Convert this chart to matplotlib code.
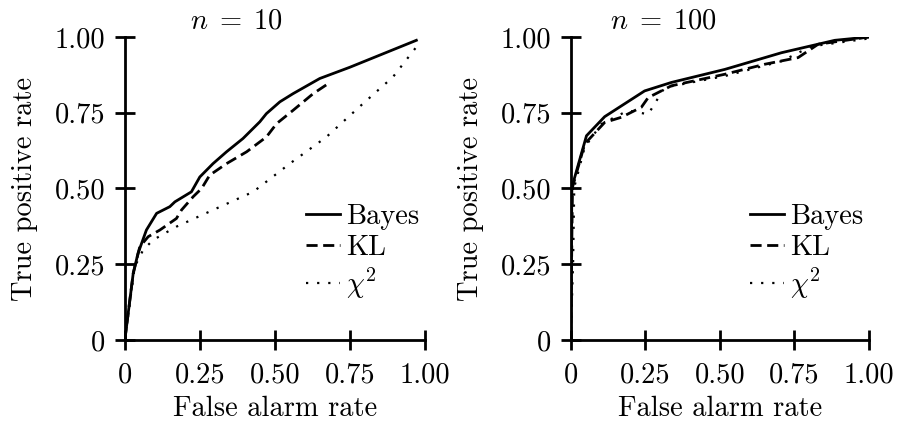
import matplotlib
matplotlib.use("Agg")
import matplotlib.pyplot as plt

plt.rcParams['font.family'] = 'serif'
plt.rcParams['font.serif'] = ['cmr10', 'DejaVu Serif']
plt.rcParams['mathtext.fontset'] = 'cm'
plt.rcParams['axes.unicode_minus'] = False

# n = 10 panel
bayes10_x = [0, 0.028, 0.044, 0.072, 0.106, 0.15, 0.167, 0.222, 0.25, 0.294, 0.339, 0.394, 0.45, 0.472, 0.517, 0.561, 0.65, 0.75, 0.972]
bayes10_y = [0, 0.22, 0.286, 0.363, 0.418, 0.44, 0.456, 0.489, 0.538, 0.582, 0.621, 0.665, 0.72, 0.747, 0.786, 0.813, 0.863, 0.90, 0.989]
kl10_x = [0, 0.028, 0.05, 0.078, 0.117, 0.172, 0.189, 0.228, 0.256, 0.283, 0.339, 0.406, 0.472, 0.506, 0.561, 0.628, 0.678]
kl10_y = [0, 0.22, 0.308, 0.341, 0.363, 0.401, 0.429, 0.473, 0.5, 0.544, 0.582, 0.621, 0.670, 0.714, 0.758, 0.813, 0.846]
chi10_x = [0, 0.033, 0.061, 0.094, 0.172, 0.294, 0.428, 0.55, 0.672, 0.794, 0.894, 0.972]
chi10_y = [0, 0.242, 0.297, 0.33, 0.374, 0.429, 0.489, 0.582, 0.67, 0.78, 0.868, 0.967]

# n = 100 panel
bayes100_x = [0, 0.004, 0.053, 0.114, 0.248, 0.338, 0.517, 0.707, 0.886, 1.0]
bayes100_y = [0, 0.504, 0.674, 0.737, 0.822, 0.85, 0.893, 0.948, 0.989, 1.0]
kl100_x = [0, 0.006, 0.047, 0.114, 0.17, 0.237, 0.26, 0.338, 0.517, 0.651, 0.763, 0.83, 1.0]
kl100_y = [0, 0.504, 0.647, 0.718, 0.735, 0.768, 0.80, 0.839, 0.877, 0.91, 0.932, 0.976, 1.0]
chi100_x = [0, 0.008, 0.012, 0.047, 0.103, 0.192, 0.26, 0.315, 0.517, 0.707, 0.807, 1.0]
chi100_y = [0, 0.25, 0.504, 0.636, 0.713, 0.757, 0.745, 0.833, 0.871, 0.92, 0.969, 0.995]

tick_vals = [0, 0.25, 0.5, 0.75, 1.0]
tick_labels = ['0', '0.25', '0.50', '0.75', '1.00']
series_labels = ['Bayes', 'KL', r'$\chi^2$']
titles = [r'$n\;=\;10$', r'$n\;=\;100$']
title_x = [0.373, 0.312]

fig = plt.figure(figsize=(8.98, 4.25), dpi=100)
ax1 = fig.add_axes([0.139, 0.2, 0.334, 0.713])
ax2 = fig.add_axes([0.6355, 0.2, 0.332, 0.713])

data = [
    (bayes10_x, bayes10_y, kl10_x, kl10_y, chi10_x, chi10_y),
    (bayes100_x, bayes100_y, kl100_x, kl100_y, chi100_x, chi100_y),
]

fs = 20.5
for ax, d, title, tx in zip([ax1, ax2], data, titles, title_x):
    bx, by, kx, ky, cx, cy = d
    ax.plot(bx, by, color='black', lw=2.0, ls='-', label=series_labels[0])
    ax.plot(kx, ky, color='black', lw=2.0, ls=(0, (4, 2)), label=series_labels[1])
    ax.plot(cx, cy, color='black', lw=1.6, ls=(0, (1, 4)), label=series_labels[2])
    ax.set_xlim(0, 1.0)
    ax.set_ylim(0, 1.0)
    for s in ['top', 'right']:
        ax.spines[s].set_visible(False)
    for s in ['left', 'bottom']:
        ax.spines[s].set_linewidth(2.0)
    ax.set_xticks(tick_vals)
    ax.set_xticklabels(tick_labels)
    ax.set_yticks(tick_vals)
    ax.set_yticklabels(tick_labels)
    ax.tick_params(axis='x', direction='inout', length=14, width=2.0, labelsize=fs, pad=9)
    ax.tick_params(axis='y', direction='inout', length=14, width=2.0, labelsize=fs, pad=7)
    ax.set_xlabel('False alarm rate', fontsize=fs, labelpad=5)
    ax.set_ylabel('True positive rate', fontsize=fs, labelpad=12)
    ax.set_title(title, fontsize=fs, pad=6, x=tx)
    leg = ax.legend(loc='lower right', bbox_to_anchor=(1.02, 0.09), frameon=False,
                    fontsize=fs, handlelength=1.2, handletextpad=0.2,
                    labelspacing=0.18, borderaxespad=0)

fig.savefig('out.png', dpi=100)
